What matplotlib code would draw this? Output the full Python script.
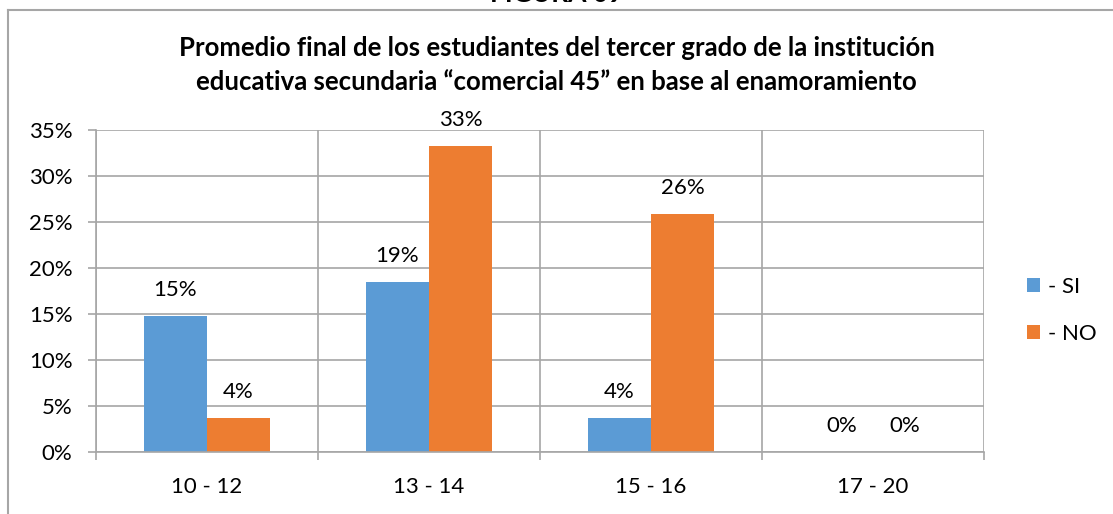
import matplotlib.pyplot as plt
import numpy as np
from matplotlib.lines import Line2D

# datos de la figura
rangos = ['10 - 12', '13 - 14', '15 - 16', '17 - 20']
si = [14.8, 18.5, 3.7, 0.0]
no = [3.7, 33.3, 25.9, 0.0]
etiquetas_si = ['15%', '19%', '4%', '0%']
etiquetas_no = ['4%', '33%', '26%', '0%']

azul = '#5B9BD5'
naranja = '#ED7D31'
gris = '#A6A6A6'

plt.rcParams['font.family'] = ['Lato', 'DejaVu Sans']

fig = plt.figure(figsize=(11.13, 5.14), dpi=100)
ax = fig.add_axes([96 / 1113, 1 - 452 / 514, 888 / 1113, 322 / 514])

x = np.arange(len(rangos))
w = 0.284
ax.bar(x - w / 2, si, w, color=azul, label='- SI')
ax.bar(x + w / 2, no, w, color=naranja, label='- NO')

for i in range(len(rangos)):
    ax.text(x[i] - w / 2, si[i] + 1.7, etiquetas_si[i], ha='center', va='bottom', fontsize=16)
    ax.text(x[i] + w / 2, no[i] + 1.7, etiquetas_no[i], ha='center', va='bottom', fontsize=16)

ax.set_xlim(-0.5, len(rangos) - 0.5)
ax.set_ylim(0, 35)
ax.set_yticks(np.arange(0, 36, 5))
ax.set_yticklabels([f'{v}%' for v in range(0, 36, 5)], fontsize=16)
ax.set_xticks(x)
ax.set_xticklabels(rangos, fontsize=16)
ax.set_xticks(np.arange(-0.5, len(rangos)), minor=True)
ax.tick_params(axis='x', which='major', length=0, pad=18)
ax.tick_params(axis='x', which='minor', length=6, color=gris, width=1.2)
ax.tick_params(axis='y', length=6, color=gris, width=1.2, pad=11)
ax.grid(axis='y', color=gris, linewidth=1.2)
ax.grid(axis='x', which='minor', color=gris, linewidth=1.2)
ax.set_axisbelow(True)
for s in ['top', 'right']:
    ax.spines[s].set_visible(False)
for s in ['left', 'bottom']:
    ax.spines[s].set_color(gris)
    ax.spines[s].set_linewidth(1.2)

ax.legend(loc='center left', bbox_to_anchor=(1.048, 0.44), frameon=False, fontsize=16,
          handlelength=0.6, handleheight=0.6, handletextpad=0.35, labelspacing=1.2,
          borderpad=0, borderaxespad=0)

fig.text(0.5, 1 - 65 / 514,
         'Promedio final de los estudiantes del tercer grado de la institución\n'
         'educativa secundaria \u201ccomercial 45\u201d en base al enamoramiento',
         ha='center', va='center', fontsize=18.5, fontweight='bold', linespacing=1.5)
fig.text(0.5, 1 - 6 / 514, 'FIGURA 09', ha='center', va='bottom', fontsize=19, fontweight='bold')

# marco del gráfico
fig.add_artist(Line2D([8 / 1113, 8 / 1113], [0, 1 - 10 / 514], color=gris, linewidth=1.5))
fig.add_artist(Line2D([8 / 1113, 1], [1 - 10 / 514, 1 - 10 / 514], color=gris, linewidth=1.5))

fig.savefig('out.png', dpi=100)
